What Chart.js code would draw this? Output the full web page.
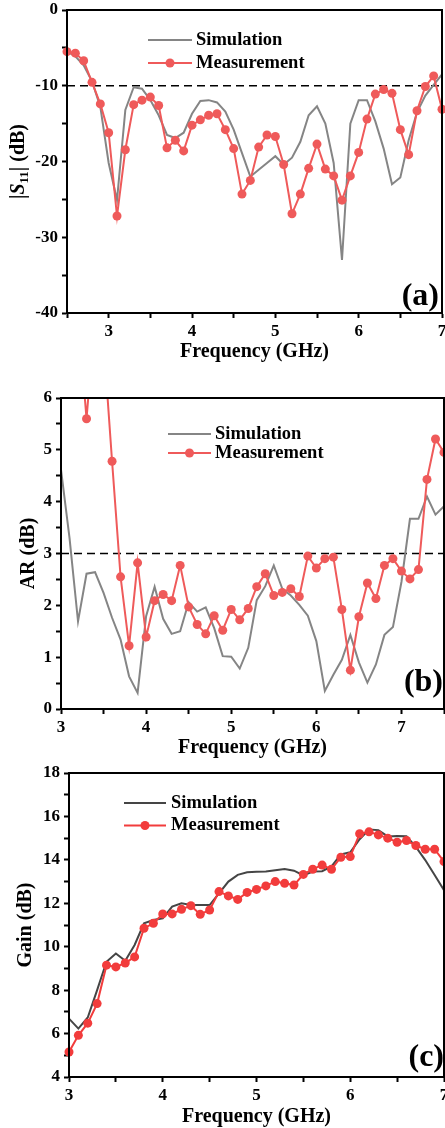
<!DOCTYPE html>
<html>
<head>
<meta charset="utf-8">
<script src="https://cdn.jsdelivr.net/npm/chart.js@4.4.1/dist/chart.umd.min.js"></script>
<style>
  html, body { margin: 0; padding: 0; background: #fff; }
  body { width: 445px; height: 1128px; overflow: hidden; position: relative; }
  .panel { position: absolute; left: 0; width: 480px; }
</style>
</head>
<body>
<div class="panel" style="top:-5px;height:369px"><canvas id="chartA"></canvas></div>
<div class="panel" style="top:383px;height:377px"><canvas id="chartB"></canvas></div>
<div class="panel" style="top:758px;height:371px"><canvas id="chartC"></canvas></div>
<script>
/* ------------------------------ data ------------------------------ */
// (a) |S11|
const freqA = [2.5, 2.6, 2.7, 2.8, 2.9, 3.0, 3.1, 3.2, 3.3, 3.4, 3.5, 3.6, 3.7, 3.8, 3.9, 4.0, 4.1, 4.2, 4.3, 4.4, 4.5, 4.6, 4.7, 4.8, 4.9, 5.0, 5.1, 5.2, 5.3, 5.4, 5.5, 5.6, 5.7, 5.8, 5.9, 6.0, 6.1, 6.2, 6.3, 6.4, 6.5, 6.6, 6.7, 6.8, 6.9, 7.0]
const simA = [-5.5, -6.1, -7.3, -9.4, -12.8, -20.2, -25.1, -13.2, -10.2, -10.4, -11.9, -13.9, -16.5, -16.9, -16.2, -13.7, -12.0, -11.9, -12.2, -13.4, -15.8, -18.9, -22.0, -21.1, -20.2, -19.3, -20.4, -19.5, -17.4, -13.9, -12.7, -15.0, -20.2, -33.0, -15.0, -11.9, -11.9, -14.7, -18.3, -23.0, -22.1, -17.2, -13.5, -11.3, -9.9, -8.5]
const measA = [-5.5, -5.7, -6.7, -9.55, -12.4, -16.2, -27.2, -18.45, -12.5, -11.9, -11.5, -12.6, -18.2, -17.2, -18.6, -15.2, -14.5, -13.9, -13.7, -15.8, -18.3, -24.3, -22.5, -18.1, -16.5, -16.7, -20.4, -26.9, -24.3, -20.9, -17.7, -21.0, -21.9, -25.1, -21.9, -18.8, -14.4, -11.1, -10.5, -11.0, -15.8, -19.1, -13.3, -10.1, -8.7, -13.1]
const limitA = -10

// (b) AR
const freqB = [3.0, 3.1, 3.2, 3.3, 3.4, 3.5, 3.6, 3.7, 3.8, 3.9, 4.0, 4.1, 4.2, 4.3, 4.4, 4.5, 4.6, 4.7, 4.8, 4.9, 5.0, 5.1, 5.2, 5.3, 5.4, 5.5, 5.6, 5.7, 5.8, 5.9, 6.0, 6.1, 6.2, 6.3, 6.4, 6.5, 6.6, 6.7, 6.8, 6.9, 7.0, 7.1, 7.2, 7.3, 7.4, 7.5]
const simB = [4.62, 3.3, 1.69, 2.61, 2.64, 2.24, 1.76, 1.34, 0.63, 0.31, 1.79, 2.36, 1.74, 1.45, 1.50, 2.06, 1.88, 1.96, 1.56, 1.02, 1.01, 0.78, 1.18, 2.10, 2.37, 2.77, 2.32, 2.19, 2.01, 1.80, 1.31, 0.35, 0.66, 0.95, 1.43, 0.90, 0.51, 0.86, 1.43, 1.58, 2.45, 3.67, 3.67, 4.10, 3.75, 3.91]
const measB = [8.6, 8.2, 7.6, 5.6, 7.6, 7.1, 4.78, 2.55, 1.22, 2.82, 1.39, 2.09, 2.21, 2.09, 2.77, 1.97, 1.63, 1.45, 1.80, 1.52, 1.92, 1.72, 1.94, 2.36, 2.61, 2.19, 2.25, 2.32, 2.17, 2.95, 2.72, 2.90, 2.93, 1.92, 0.75, 1.78, 2.43, 2.13, 2.77, 2.90, 2.66, 2.51, 2.69, 4.43, 5.21, 4.95]
const limitB = 3

// (c) Gain
const freqC = [3.0, 3.1, 3.2, 3.3, 3.4, 3.5, 3.6, 3.7, 3.8, 3.9, 4.0, 4.1, 4.2, 4.3, 4.4, 4.5, 4.6, 4.7, 4.8, 4.9, 5.0, 5.1, 5.2, 5.3, 5.4, 5.5, 5.6, 5.7, 5.8, 5.9, 6.0, 6.1, 6.2, 6.3, 6.4, 6.5, 6.6, 6.7, 6.8, 6.9, 7.0]
const simC = [6.69, 6.23, 6.74, 8.0, 9.31, 9.69, 9.35, 10.08, 11.08, 11.23, 11.31, 11.85, 12.0, 11.92, 11.92, 11.92, 12.46, 13.0, 13.31, 13.43, 13.45, 13.46, 13.52, 13.58, 13.5, 13.28, 13.46, 13.48, 13.7, 14.25, 14.35, 14.95, 15.4, 15.37, 15.08, 15.1, 15.09, 14.6, 13.99, 13.3, 12.6]
const measC = [5.15, 5.92, 6.48, 7.38, 9.15, 9.07, 9.25, 9.53, 10.85, 11.08, 11.51, 11.51, 11.72, 11.89, 11.49, 11.69, 12.54, 12.34, 12.18, 12.5, 12.64, 12.8, 13.0, 12.92, 12.84, 13.33, 13.57, 13.76, 13.57, 14.12, 14.15, 15.2, 15.29, 15.15, 15.0, 14.81, 14.89, 14.66, 14.49, 14.49, 13.92]

const labels = ['Simulation', 'Measurement']

/* ------------------------------ helpers ------------------------------ */
const FONT = '"Liberation Serif", "Times New Roman", serif'
Chart.defaults.font.family = FONT
Chart.defaults.font.weight = 'bold'
Chart.defaults.color = '#000'
Chart.defaults.animation = false

const pts = (xs, ys) => xs.map((x, i) => ({x: x, y: ys[i]}))

// frame, inline legend, panel tag and the optional |S11| title
const decorations = {
  id: 'decorations',
  afterDatasetsDraw(chart, args, o) {
    const ctx = chart.ctx
    const a = chart.chartArea
    ctx.save()
    ctx.strokeStyle = '#000'
    ctx.lineWidth = 2
    ctx.strokeRect(a.left, a.top, a.right - a.left, a.bottom - a.top)

    // legend
    chart.data.datasets.slice(0, 2).forEach((ds, i) => {
      const y = o.legend.y + i * o.legend.gap
      ctx.strokeStyle = ds.borderColor
      ctx.lineWidth = ds.borderWidth
      ctx.beginPath()
      ctx.moveTo(o.legend.x, y)
      ctx.lineTo(o.legend.x + o.legend.len, y)
      ctx.stroke()
      if (ds.pointRadius > 0) {
        ctx.fillStyle = ds.pointBackgroundColor
        ctx.beginPath()
        ctx.arc(o.legend.x + o.legend.len / 2, y, ds.pointRadius, 0, Math.PI * 2)
        ctx.fill()
      }
      ctx.fillStyle = '#000'
      ctx.font = 'bold 18.5px ' + FONT
      ctx.textAlign = 'left'
      ctx.textBaseline = 'middle'
      ctx.fillText(ds.label, o.legend.textX, y)
    })

    // panel tag
    ctx.fillStyle = '#000'
    ctx.font = 'bold 32px ' + FONT
    ctx.textAlign = 'right'
    ctx.textBaseline = 'middle'
    ctx.fillText(o.tag, o.tagX, o.tagY)

    // y title with subscript
    if (o.yTitle) {
      ctx.translate(o.yTitle.x, (a.top + a.bottom) / 2)
      ctx.rotate(-Math.PI / 2)
      ctx.textAlign = 'left'
      ctx.textBaseline = 'alphabetic'
      let w = 0
      o.yTitle.parts.forEach(p => { ctx.font = p.font; w += ctx.measureText(p.t).width })
      let x = -w / 2
      o.yTitle.parts.forEach(p => {
        ctx.font = p.font
        ctx.fillText(p.t, x, 7 + (p.dy || 0))
        x += ctx.measureText(p.t).width
      })
    }
    ctx.restore()
  }
}

function makeChart(id, p) {
  const datasets = [
    {
      label: labels[0], data: pts(p.freq, p.sim),
      borderColor: p.simColor, borderWidth: 2, pointRadius: 0, order: 2
    },
    {
      label: labels[1], data: pts(p.freq, p.meas),
      borderColor: p.measColor, backgroundColor: p.measColor,
      pointBackgroundColor: p.measColor, borderWidth: 2,
      pointRadius: 4.5, pointBorderWidth: 0, order: 1,
      clip: {left: 6, top: 1, right: 6, bottom: 6}
    }
  ]
  if (p.limit !== undefined) {
    datasets.push({
      label: '', data: [{x: p.xMin, y: p.limit}, {x: p.xMax, y: p.limit}],
      borderColor: '#000', borderWidth: 1.6, borderDash: [8, 5],
      pointRadius: 0, order: 3
    })
  }

  return new Chart(document.getElementById(id), {
    type: 'line',
    data: {datasets: datasets},
    plugins: [decorations],
    options: {
      responsive: true,
      maintainAspectRatio: false,
      layout: {padding: {top: 15, right: p.padRight, left: 0, bottom: 0}},
      plugins: {
        legend: {display: false},
        tooltip: {enabled: false},
        decorations: p.deco
      },
      scales: {
        x: {
          type: 'linear', min: p.xMin, max: p.xMax,
          border: {color: '#000', width: 2},
          grid: {drawOnChartArea: false, tickLength: 5, tickColor: '#000', tickWidth: 2},
          ticks: {
            stepSize: 0.5, autoSkip: false, maxRotation: 0, padding: 3,
            font: {size: 17, weight: 'bold'},
            callback: v => Number.isInteger(v) ? String(v) : ''
          },
          title: {display: true, text: 'Frequency (GHz)', font: {size: 20, weight: 'bold'}, padding: {top: 0, bottom: 0}},
          afterFit: s => { s.height = p.xHeight }
        },
        y: {
          min: p.yMin, max: p.yMax,
          border: {color: '#000', width: 2},
          grid: {drawOnChartArea: false, tickLength: 5, tickColor: '#000', tickWidth: 2},
          ticks: {
            stepSize: p.yStep, autoSkip: false, padding: 4,
            font: {size: 17, weight: 'bold'},
            callback: p.yLabel
          },
          title: {
            display: !!p.yTitle, text: p.yTitle || '',
            font: {size: 20, weight: 'bold'}, padding: {top: p.yTitlePad || 0, bottom: 0}
          },
          afterFit: s => { s.width = p.yWidth }
        }
      }
    }
  })
}

/* ------------------------------ charts ------------------------------ */
makeChart('chartA', {
  freq: freqA, sim: simA, meas: measA, limit: limitA,
  simColor: '#858585', measColor: '#ef5a5a',
  xMin: 2.5, xMax: 7, yMin: -40, yMax: 0, yStep: 5,
  yLabel: v => v % 10 === 0 ? String(v) : '',
  yWidth: 67, xHeight: 51, padRight: 38,
  deco: {
    legend: {x: 148, y: 45, gap: 23, len: 44, textX: 196},
    tag: '(a)', tagX: 439, tagY: 302,
    yTitle: {
      x: 17,
      parts: [
        {t: '|', font: 'bold 20px ' + FONT},
        {t: 'S', font: 'italic bold 20px ' + FONT},
        {t: '11', font: 'bold 13px ' + FONT, dy: 4},
        {t: '| (dB)', font: 'bold 20px ' + FONT}
      ]
    }
  }
})

makeChart('chartB', {
  freq: freqB, sim: simB, meas: measB, limit: limitB,
  simColor: '#858585', measColor: '#ef5a5a',
  xMin: 3, xMax: 7.5, yMin: 0, yMax: 6, yStep: 0.5,
  yLabel: v => Number.isInteger(v) ? String(v) : '',
  yTitle: 'AR (dB)', yTitlePad: 17,
  yWidth: 61, xHeight: 51, padRight: 36,
  deco: {
    legend: {x: 168, y: 51, gap: 19, len: 43, textX: 215},
    tag: '(b)', tagX: 443, tagY: 300
  }
})

makeChart('chartC', {
  freq: freqC, sim: simC, meas: measC,
  simColor: '#454545', measColor: '#f23c3c',
  xMin: 3, xMax: 7, yMin: 4, yMax: 18, yStep: 1,
  yLabel: v => v % 2 === 0 ? String(v) : '',
  yTitle: 'Gain (dB)', yTitlePad: 14,
  yWidth: 69, xHeight: 52, padRight: 36,
  deco: {
    legend: {x: 124, y: 45, gap: 22.5, len: 42, textX: 171},
    tag: '(c)', tagX: 444, tagY: 300
  }
})
</script>
</body>
</html>
